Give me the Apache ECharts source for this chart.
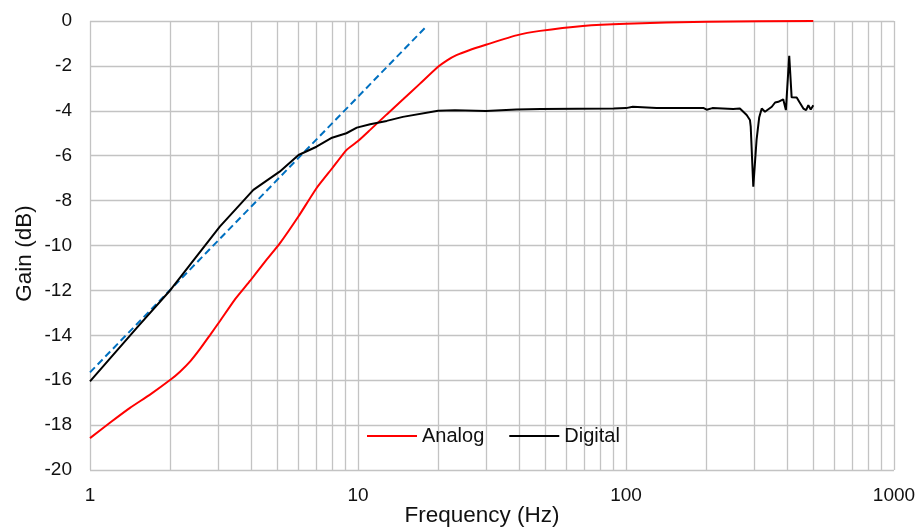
<!DOCTYPE html>
<html>
<head>
<meta charset="utf-8">
<script src="https://cdn.jsdelivr.net/npm/echarts@6/dist/echarts.min.js"></script>
<style>
  html, body { margin: 0; padding: 0; background: #fff; }
  #chart { width: 920px; height: 530px; }
</style>
</head>
<body>
<div id="chart"></div>
<script>
// frequency (Hz) / gain (dB)
const analogFreq = [1, 1.2, 1.41, 1.675, 2, 2.167, 2.37, 2.57, 2.8, 3.06, 3.47, 3.96, 4.5, 5.1, 6, 7, 8, 9.05, 10, 11.1, 12.8, 14.7, 17, 19.9, 21.5, 23.3, 26, 30.2, 39, 47.8, 69, 100, 200, 500];
const analogGain = [-18.58, -17.85, -17.23, -16.64, -15.97, -15.62, -15.15, -14.62, -14.0, -13.35, -12.41, -11.57, -10.72, -9.92, -8.7, -7.45, -6.57, -5.75, -5.35, -4.85, -4.16, -3.5, -2.8, -2.04, -1.75, -1.52, -1.3, -1.05, -0.64, -0.44, -0.22, -0.12, -0.03, 0];

const digitalFreq = [1, 1.5, 2, 2.36, 3.05, 3.5, 4.07, 5.1, 6, 7, 8, 9.05, 9.9, 11.1, 12.8, 14.7, 19.9, 23, 30, 39, 48, 90, 100, 106, 115, 130, 195, 200, 210, 251, 266, 282, 290, 292, 298.5, 307, 314, 321, 330, 350, 360, 370, 386, 395, 406.5, 415, 433.5, 443, 459, 470, 479, 489, 500];
const digitalGain = [-16.05, -13.65, -11.97, -10.86, -9.16, -8.38, -7.52, -6.71, -5.97, -5.6, -5.2, -5.0, -4.75, -4.6, -4.45, -4.27, -4.0, -3.97, -4.01, -3.94, -3.92, -3.9, -3.88, -3.82, -3.84, -3.88, -3.88, -3.95, -3.88, -3.92, -3.9, -4.19, -4.41, -4.71, -7.38, -5.3, -4.3, -3.9, -4.04, -3.82, -3.63, -3.6, -3.49, -3.97, -1.55, -3.4, -3.41, -3.6, -3.9, -3.97, -3.75, -3.94, -3.75];

const fitFreq = [1, 17.8];
const fitGain = [-15.65, -0.3];

const minorFreqs = [2, 3, 4, 5, 6, 7, 8, 9, 20, 30, 40, 50, 60, 70, 80, 90, 200, 300, 400, 500, 600, 700, 800, 900];

const font = "'Liberation Sans', Arial, sans-serif";
const gridColor = '#c3c3c3';

const zip = (xs, ys) => xs.map((x, i) => [x, ys[i]]);

const chart = echarts.init(document.getElementById('chart'));

chart.setOption({
    animation: false,
    textStyle: { fontFamily: font, color: '#111' },
    grid: { left: 90, right: 26, top: 21, bottom: 60, containLabel: false, outerBoundsMode: 'none' },
    legend: {
        data: [
            { name: 'Analog', icon: 'rect' },
            { name: 'Digital', icon: 'rect' }
        ],
        left: 367,
        top: 426,
        padding: 0,
        itemWidth: 50,
        itemHeight: 2,
        itemGap: 25,
        textStyle: { fontSize: 20, color: '#111', fontFamily: font }
    },
    xAxis: {
        type: 'log',
        logBase: 10,
        min: 1,
        max: 1000,
        name: 'Frequency (Hz)',
        nameLocation: 'middle',
        nameGap: 34,
        nameMoveOverlap: false,
        nameTextStyle: { fontSize: 22.5, color: '#111', fontFamily: font, padding: [0, 20, 0, 0] },
        axisLine: { show: false },
        axisTick: { show: false },
        axisLabel: {
            fontSize: 19,
            color: '#111',
            margin: 16,
            formatter: v => String(Math.round(v))
        },
        splitLine: { show: true, lineStyle: { color: gridColor, width: 1.3 } }
    },
    yAxis: {
        type: 'value',
        min: -20,
        max: 0,
        interval: 2,
        name: 'Gain (dB)',
        nameLocation: 'middle',
        nameGap: 54,
        nameMoveOverlap: false,
        nameTextStyle: { fontSize: 22.5, color: '#111', fontFamily: font, padding: [0, 16, 0, 0] },
        axisLine: { show: false },
        axisTick: { show: false },
        axisLabel: { fontSize: 19, color: '#111', margin: 18 },
        splitLine: { show: true, lineStyle: { color: gridColor, width: 1.3 } }
    },
    series: [
        {
            name: 'Fit',
            type: 'line',
            data: zip(fitFreq, fitGain),
            symbol: 'none',
            lineStyle: { color: '#0070C0', width: 2, type: [7, 4] },
            z: 3,
            markLine: {
                silent: true,
                z: 1,
                symbol: 'none',
                label: { show: false },
                lineStyle: { color: gridColor, width: 1.3, type: 'solid' },
                data: minorFreqs.map(f => ({ xAxis: f }))
            }
        },
        {
            name: 'Analog',
            type: 'line',
            data: zip(analogFreq, analogGain),
            symbol: 'none',
            smooth: 0.15,
            lineStyle: { color: '#ff0000', width: 2 },
            itemStyle: { color: '#ff0000' },
            z: 4
        },
        {
            name: 'Digital',
            type: 'line',
            data: zip(digitalFreq, digitalGain),
            symbol: 'none',
            lineStyle: { color: '#000', width: 2 },
            itemStyle: { color: '#000' },
            z: 5
        }
    ]
});
</script>
</body>
</html>
